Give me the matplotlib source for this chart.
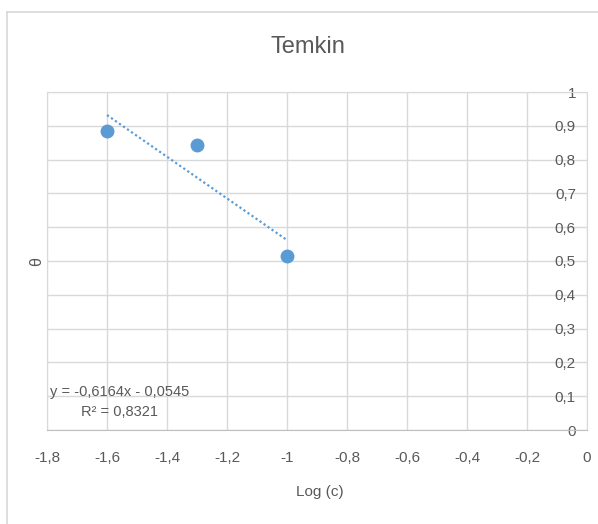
import matplotlib
matplotlib.use("Agg")
import matplotlib.pyplot as plt
from matplotlib.lines import Line2D
import numpy as np

# data
log_c = [-1.6, -1.3, -1.0]
theta = [0.884, 0.843, 0.514]
slope, intercept = -0.6164, -0.0545
eq_text = "y = -0,6164x - 0,0545"
r2_text = "R² = 0,8321"
x_ticks = [-1.8, -1.6, -1.4, -1.2, -1.0, -0.8, -0.6, -0.4, -0.2, 0.0]
x_labels = ["-1,8", "-1,6", "-1,4", "-1,2", "-1", "-0,8", "-0,6", "-0,4", "-0,2", "0"]
y_ticks = [0, 0.1, 0.2, 0.3, 0.4, 0.5, 0.6, 0.7, 0.8, 0.9, 1.0]
y_labels = ["0", "0,1", "0,2", "0,3", "0,4", "0,5", "0,6", "0,7", "0,8", "0,9", "1"]

plt.rcParams['font.family'] = ['Liberation Sans', 'DejaVu Sans']
txt = '#595959'
grid = '#d9d9d9'
blue = '#5B9BD5'

fig = plt.figure(figsize=(5.98, 5.24), dpi=100)
ax = fig.add_axes([47/598, 1-430/524, 540/598, 338/524])

# trendline from the fitted equation
tx = np.array([min(log_c), max(log_c)])
ax.plot(tx, slope*tx + intercept, color=blue, lw=1.6, linestyle=(0, (1, 1.2)), zorder=3)
ax.plot(log_c, theta, 'o', color=blue, markersize=9, zorder=4)

ax.set_xlim(-1.8, 0)
ax.set_ylim(0, 1)
ax.set_xticks(x_ticks)
ax.set_xticklabels(x_labels)
ax.set_yticks(y_ticks)
ax.set_yticklabels(y_labels)
ax.grid(True, color=grid, lw=1)
ax.set_axisbelow(True)
for s in ax.spines.values():
    s.set_color(grid)
ax.spines['bottom'].set_color('#bfbfbf')

ax.yaxis.set_ticks_position('right')
ax.tick_params(axis='y', length=0, pad=-8, labelsize=11, labelcolor=txt)
for lab in ax.get_yticklabels():
    lab.set_horizontalalignment('right')
ax.tick_params(axis='x', length=0, pad=15, labelsize=11, labelcolor=txt)

ax.text(0.135, 0.083, eq_text + "\n" + r2_text, transform=ax.transAxes,
        ha='center', va='center', fontsize=10.5, color=txt, linespacing=1.5)

fig.text(308/598, 1-47/524, "Temkin", ha='center', va='center', fontsize=17, color=txt)
fig.text(320/598, 1-492/524, "Log (c)", ha='center', va='center', fontsize=11, color=txt)
fig.text(37/598, 1-262/524, "θ", ha='center', va='center', fontsize=11.5, color=txt, rotation=90)

# outer chart frame
fig.add_artist(Line2D([7/598, 1], [1-12/524, 1-12/524], color=grid, lw=1.2))
fig.add_artist(Line2D([7/598, 7/598], [0, 1-12/524], color=grid, lw=1.2))

fig.savefig("out.png", dpi=100)
